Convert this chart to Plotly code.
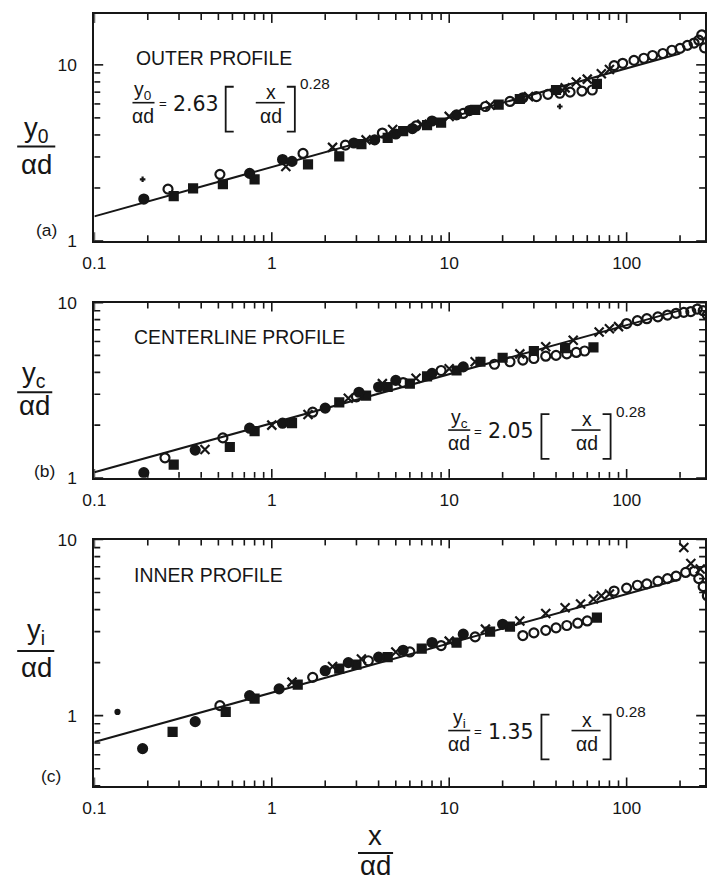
import plotly.graph_objects as go

# Figure size; the page adds an 8 px body margin and the photo of the whole page
# is fitted back into 707x884, so target pixels are mapped through that.
FW, FH = 707, 884
M = 8
SX, SY = 707 / (707 + 2 * M), 884 / (884 + 2 * M)

# ---------------- data ----------------
x_tick_vals = [0.1, 1, 10, 100]
x_tick_text = ["0.1", "1", "10", "100"]
coef = {"a": 2.63, "b": 2.05, "c": 1.35}
expo = 0.28
fit_x = [0.1, 200]

# Panel (a) outer profile
a_open_x = [0.26, 0.51, 1.5, 2.6, 4.2, 6.5, 12, 16, 22, 26, 31, 36, 42, 48, 56, 64,
            85, 95, 110, 125, 140, 160, 180, 200, 220, 240, 255, 265, 275]
a_open_y = [1.97, 2.39, 3.14, 3.5, 4.1, 4.5, 5.3, 5.8, 6.2, 6.5, 6.6, 6.8, 6.9, 7.0, 7.1, 7.2,
            9.9, 10.2, 10.6, 10.9, 11.3, 11.6, 12.1, 12.4, 12.9, 13.3, 13.8, 14.8, 12.5]
a_sq_x = [0.28, 0.36, 0.53, 0.8, 1.6, 2.4, 3.2, 4.5, 5.5, 7.5, 9, 14, 19, 25, 40, 68]
a_sq_y = [1.80, 1.99, 2.10, 2.24, 2.72, 3.02, 3.55, 3.85, 4.2, 4.55, 4.7, 5.55, 5.95, 6.4, 7.2, 7.8]
a_dot_x = [0.19, 0.75, 1.15, 1.3, 2.9, 3.8, 5.0, 6.2, 8.0, 11, 13]
a_dot_y = [1.73, 2.42, 2.9, 2.83, 3.6, 3.75, 4.05, 4.35, 4.8, 5.2, 5.5]
a_x_x = [1.2, 2.2, 3.4, 4.8, 7, 10, 17, 28, 45, 52, 60, 72, 80]
a_x_y = [2.65, 3.4, 3.75, 4.3, 4.6, 5.1, 5.9, 6.6, 7.4, 8.0, 8.3, 8.9, 9.4]
a_stray_x = [0.187, 42]
a_stray_y = [2.24, 5.8]

# Panel (b) centerline profile
b_open_x = [0.25, 0.53, 1.7, 3.0, 5.5, 9, 18, 22, 26, 30, 35, 40, 46, 52, 58,
            100, 115, 130, 150, 170, 190, 210, 230, 250, 270, 285]
b_open_y = [1.3, 1.69, 2.37, 2.9, 3.5, 4.1, 4.45, 4.6, 4.7, 4.8, 4.95, 5.0, 5.1, 5.2, 5.3,
            7.6, 7.9, 8.1, 8.3, 8.5, 8.7, 8.8, 8.9, 9.2, 9.0, 8.5]
b_sq_x = [0.28, 0.58, 0.8, 1.3, 2.4, 3.4, 4.5, 6.0, 7.5, 11, 15, 20, 30, 45, 65]
b_sq_y = [1.19, 1.5, 1.85, 2.05, 2.7, 2.95, 3.3, 3.45, 3.8, 4.1, 4.6, 4.85, 5.3, 5.5, 5.55]
b_dot_x = [0.19, 0.37, 0.75, 1.15, 2.0, 3.1, 4.0, 5.0, 8.0, 12]
b_dot_y = [1.07, 1.44, 1.92, 2.05, 2.5, 3.08, 3.3, 3.6, 3.95, 4.3]
b_x_x = [0.42, 1.0, 1.6, 2.7, 4.2, 6.5, 10, 14, 25, 35, 50, 70, 80, 90]
b_x_y = [1.45, 2.0, 2.3, 2.85, 3.45, 3.7, 4.2, 4.6, 5.1, 5.6, 6.1, 6.8, 7.1, 7.3]

# Panel (c) inner profile
c_open_x = [0.51, 1.7, 3.5, 6, 9, 14, 26, 30, 35, 40, 46, 53, 60,
            85, 100, 115, 130, 150, 170, 190, 215, 240, 255, 270, 285]
c_open_y = [1.14, 1.65, 2.05, 2.3, 2.5, 2.8, 2.85, 2.95, 3.05, 3.15, 3.25, 3.35, 3.45,
            5.1, 5.3, 5.5, 5.6, 5.8, 6.0, 6.2, 6.5, 6.6, 6.0, 5.4, 4.8]
c_sq_x = [0.276, 0.55, 0.8, 1.4, 2.4, 3.0, 4.5, 7, 11, 17, 22, 68]
c_sq_y = [0.81, 1.05, 1.25, 1.5, 1.85, 1.95, 2.15, 2.4, 2.6, 3.0, 3.2, 3.6]
c_dot_x = [0.187, 0.37, 0.75, 1.1, 2.0, 2.7, 4.0, 5.5, 8, 12, 20]
c_dot_y = [0.65, 0.925, 1.3, 1.42, 1.8, 2.0, 2.15, 2.35, 2.6, 2.9, 3.3]
c_x_x = [1.3, 2.2, 3.2, 5, 10, 16, 25, 35, 45, 55, 65, 72, 80, 210, 230, 260]
c_x_y = [1.55, 1.9, 2.1, 2.3, 2.65, 3.1, 3.45, 3.8, 4.1, 4.3, 4.6, 4.8, 4.9, 9.0, 7.3, 6.8]
c_stray_x = [0.135]
c_stray_y = [1.05]

# ---------------- helpers ----------------
def fx(t):
    return t / SX - M

def fy_(t):
    return t / SY - M

def X(t):
    return min(1.0, max(0.0, fx(t) / FW))

def Y(t):
    return min(1.0, max(0.0, 1 - fy_(t) / FH))

INK = "#161616"
FONT = "Liberation Sans"
NUMFONT = "DejaVu Sans"
FS = 1 / SX

fig = go.Figure()
annotations = []
shapes = []

def text(t, px, py, size, anchor="center", family=FONT):
    annotations.append(dict(text=t, x=X(px), y=Y(py), xref="paper", yref="paper",
                            showarrow=False, xanchor=anchor, yanchor="middle",
                            font=dict(family=family, size=round(size * FS, 1), color=INK)))

def hline(x0, x1, py, w=1.6):
    shapes.append(dict(type="line", xref="paper", yref="paper", x0=X(x0), x1=X(x1),
                       y0=Y(py), y1=Y(py), line=dict(color=INK, width=w)))

def frac(num, den, cx, yn, yl, yd, x0, x1, size, w=1.6):
    text(num, cx, yn, size)
    hline(x0, x1, yl, w)
    text(den, cx, yd, size)

def bracket(x0, x1, y0, y1, left=True, w=1.8):
    if left:
        path = f"M {X(x1)},{Y(y0)} L {X(x0)},{Y(y0)} L {X(x0)},{Y(y1)} L {X(x1)},{Y(y1)}"
    else:
        path = f"M {X(x0)},{Y(y0)} L {X(x1)},{Y(y0)} L {X(x1)},{Y(y1)} L {X(x0)},{Y(y1)}"
    shapes.append(dict(type="path", xref="paper", yref="paper", path=path,
                       line=dict(color=INK, width=w)))

def equation(sub, c_text, ox, oy):
    frac(f"y<sub>{sub}</sub>", "αd", ox + 11, oy - 12, oy, oy + 13, ox, ox + 22, 19)
    text("=", ox + 30, oy + 1, 13)
    text(c_text, ox + 63, oy + 1, 20, "center", NUMFONT)
    bracket(ox + 93, ox + 101, oy - 16, oy + 29, left=True)
    frac("x", "αd", ox + 138, oy - 11, oy, oy + 13, ox + 123, ox + 152, 19)
    bracket(ox + 154, ox + 162, oy - 16, oy + 29, left=False)
    text("0.28", ox + 165, oy - 19, 15, "left")

# ---------------- panels ----------------
LEFT_T, RIGHT_T = 90, 705          # target pixels of the plot box
DECADE_T = 177.0                   # target pixels per decade
left_p, right_p = fx(LEFT_T), min(FW, fx(RIGHT_T))
decade_p = DECADE_T / SX
X_RANGE = [-1, -1 + (right_p - left_p) / decade_p]

panels = [
    dict(key="a", dom=(240, 12), yr=[0, 1.288],
         series=[(a_open_x, a_open_y, "circle-open"), (a_sq_x, a_sq_y, "square"),
                 (a_dot_x, a_dot_y, "circle"), (a_x_x, a_x_y, "x-thin-open"),
                 (a_stray_x, a_stray_y, "cross-thin-open")]),
    dict(key="b", dom=(478, 302), yr=[0, 1],
         series=[(b_open_x, b_open_y, "circle-open"), (b_sq_x, b_sq_y, "square"),
                 (b_dot_x, b_dot_y, "circle"), (b_x_x, b_x_y, "x-thin-open")]),
    dict(key="c", dom=(788, 540), yr=[-0.401, 1],
         series=[(c_open_x, c_open_y, "circle-open"), (c_sq_x, c_sq_y, "square"),
                 (c_dot_x, c_dot_y, "circle"), (c_x_x, c_x_y, "x-thin-open"),
                 (c_stray_x, c_stray_y, "circle")]),
]

minor_x = [m * 10 ** d for d in range(-1, 3) for m in range(2, 10)
           if m * 10 ** d < 10 ** X_RANGE[1]]
MAJ, MIN = 9, 6

for i, p in enumerate(panels):
    n = "" if i == 0 else str(i + 1)
    xa, ya = "x" + n, "y" + n
    fit_y = [coef[p["key"]] * xv ** expo for xv in fit_x]
    fig.add_trace(go.Scatter(x=fit_x, y=fit_y, mode="lines", xaxis=xa, yaxis=ya,
                             line=dict(color=INK, width=2), showlegend=False,
                             hoverinfo="skip"))
    for sx, sy, sym in p["series"]:
        small = sym.startswith("cross") or (len(sx) == 1)
        size = 4 if small else (8 if sym == "square" else 9)
        fig.add_trace(go.Scatter(
            x=sx, y=sy, mode="markers", xaxis=xa, yaxis=ya, showlegend=False,
            marker=dict(symbol=sym, size=size, color=INK,
                        line=dict(color=INK, width=2.2))))
    lo, hi = 10 ** p["yr"][0], 10 ** p["yr"][1]
    minor_y = [m * 10 ** d for d in range(-1, 2) for m in range(2, 10)
               if lo * 1.001 < m * 10 ** d < hi * 0.999]
    y_major = [v for v in [0.1, 1, 10] if lo * 0.999 <= v <= hi * 1.001]
    axis_common = dict(type="log", showgrid=False, zeroline=False, showline=True,
                       linecolor=INK, linewidth=2, ticks="", mirror=True,
                       tickfont=dict(family=FONT, size=round(17 * FS, 1), color=INK))
    fig.update_layout(**{
        ("xaxis" + n): dict(axis_common, range=X_RANGE,
                            domain=[left_p / FW, right_p / FW],
                            anchor=ya, tickvals=x_tick_vals, ticktext=x_tick_text,
                            ticklabelstandoff=5),
        ("yaxis" + n): dict(axis_common, range=p["yr"],
                            domain=[Y(p["dom"][0]), Y(p["dom"][1])], anchor=xa,
                            tickvals=y_major, ticktext=[("%g" % v) for v in y_major],
                            ticklabelstandoff=12),
    })
    # tick marks (inside, on all four sides), placed through the axis scales
    ph = (Y(p["dom"][1]) - Y(p["dom"][0])) * FH
    pw = right_p - left_p
    for v in x_tick_vals + minor_x:
        L = (MAJ if v in x_tick_vals else MIN) / ph
        for base, sgn in ((0, 1), (1, -1)):
            shapes.append(dict(type="line", xref=xa, yref=ya + " domain",
                               x0=v, x1=v, y0=base, y1=base + sgn * L,
                               line=dict(color=INK, width=1.6)))
    for v in y_major + minor_y:
        L = (MAJ if v in y_major else MIN) / pw
        for base, sgn in ((0, 1), (1, -1)):
            shapes.append(dict(type="line", xref=xa + " domain", yref=ya,
                               x0=base, x1=base + sgn * L, y0=v, y1=v,
                               line=dict(color=INK, width=1.6)))

# ---------------- texts ----------------
text("OUTER PROFILE", 130, 56, 19, "left")
text("CENTERLINE PROFILE", 128, 336, 19, "left")
text("INNER PROFILE", 128, 576, 19, "left")

equation("0", "2.63", 128, 101)
equation("c", "2.05", 443, 430)
equation("i", "1.35", 443, 732)

frac("y<sub>0</sub>", "αd", 32, 128, 145, 163, 13, 51, 27, 2)
frac("y<sub>c</sub>", "αd", 30, 374, 392, 405, 13, 48, 27, 2)
frac("y<sub>i</sub>", "αd", 32, 632, 652, 669, 13, 50, 27, 2)
frac("x", "αd", 370, 837, 855, 868, 353, 388, 27, 2)

text("(a)", 42, 229, 17)
text("(b)", 40, 471, 17)
text("(c)", 47, 778, 17)

fig.update_layout(width=FW, height=FH, margin=dict(l=0, r=0, t=0, b=0),
                  paper_bgcolor="white", plot_bgcolor="white",
                  annotations=annotations, shapes=shapes, showlegend=False)

fig.write_html("out.html")
